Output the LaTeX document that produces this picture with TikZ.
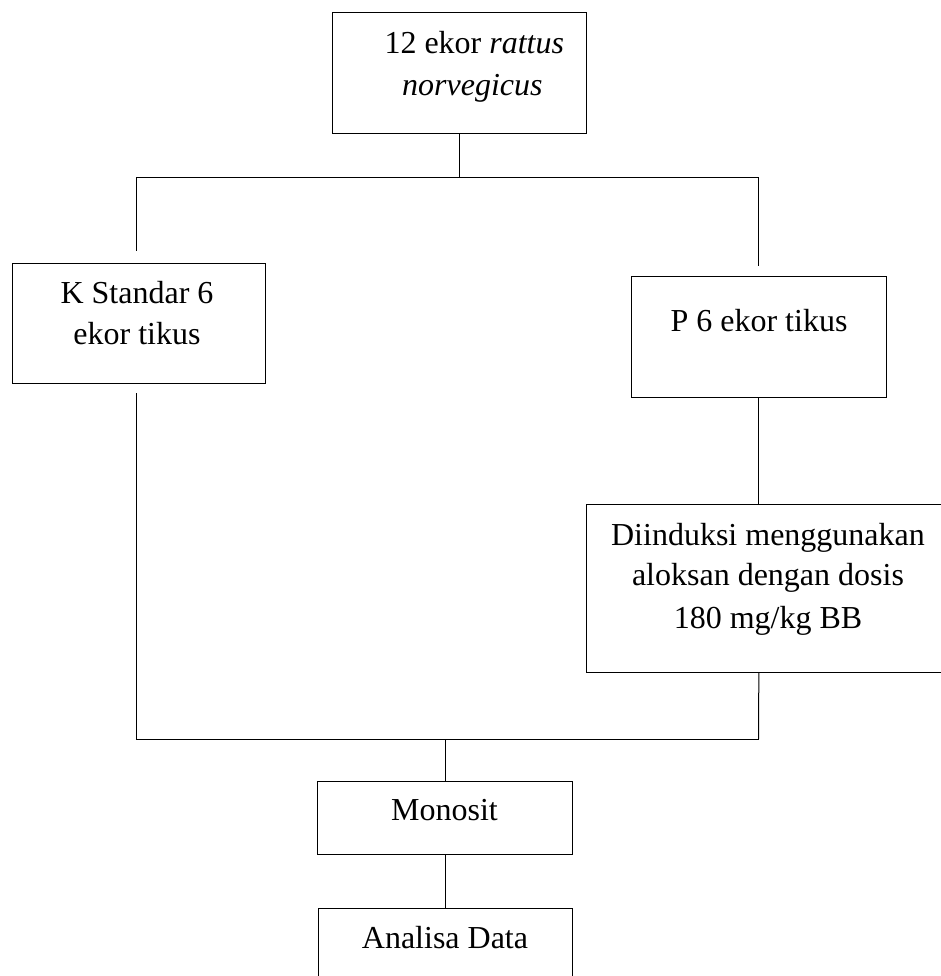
\documentclass[tikz,border=0pt]{standalone}
\usepackage{fontspec}
\setmainfont{Liberation Serif}
\begin{document}
\begin{tikzpicture}[x=0.75pt,y=-0.75pt,
  box/.style={draw=black,line width=0.75pt,inner sep=0pt,rectangle},
  conn/.style={draw=black,line width=0.75pt},
  txt/.style={anchor=base,inner sep=0pt,font=\fontsize{24}{31.5}\selectfont}]
\useasboundingbox (0,0) rectangle (941,976);
\clip (0,0) rectangle (941,976);
% boxes
\node[box,minimum width=254.4*0.75pt,minimum height=120.6*0.75pt] (top) at (459.5,73) {};
\node[box,minimum width=253.7*0.75pt,minimum height=120*0.75pt] (K) at (138.85,323) {};
\node[box,minimum width=254.3*0.75pt,minimum height=120.3*0.75pt] (P) at (758.85,336.85) {};
\node[box,minimum width=360*0.75pt,minimum height=168.5*0.75pt] (D) at (766,588.25) {};
\node[box,minimum width=255*0.75pt,minimum height=72.6*0.75pt] (M) at (444.5,818) {};
\node[box,minimum width=254*0.75pt,minimum height=91.3*0.75pt] (A) at (445,954.35) {};
% texts
\node[txt] (t1a) at (474.3,53) {12 ekor \textit{rattus}};
\node[txt] (t1b) at (472.4,95) {\textit{norvegicus}};
\node[txt] (tKa) at (137,303) {K Standar 6};
\node[txt] (tKb) at (137,344) {ekor tikus};
\node[txt] (tP) at (759,331.7) {P 6 ekor tikus};
\node[txt] (tDa) at (768,545) {Diinduksi menggunakan};
\node[txt] (tDb) at (768,585.5) {aloksan dengan dosis};
\node[txt] (tDc) at (768,628) {180 mg/kg BB};
\node[txt] (tM) at (444.5,820.7) {Monosit};
\node[txt] (tA) at (445,948) {Analisa Data};
% junction coordinates
\coordinate (jt) at (459.5,177.7);
\coordinate (jl) at (136,177.7);
\coordinate (jr) at (758.5,177.7);
\coordinate (lt) at (136,250.7);
\coordinate (rt) at (758.5,265.7);
\coordinate (lb) at (136,393);
\coordinate (bl) at (136,739);
\coordinate (br) at (758.5,739);
\coordinate (bm) at (445.7,739);
% connectors
\draw[conn] (top.south) -- (jt);
\draw[conn] (lt) -- (jl) -- (jr) -- (rt);
\draw[conn] (lb) -- (bl) -- (br);
\draw[conn] (P.south) -- (P.south |- D.north);
\draw[conn] (P.south |- D.south) -- (br);
\draw[conn] (bm) -- (bm |- M.north);
\draw[conn] (bm |- M.south) -- (bm |- A.north);
\end{tikzpicture}
\end{document}
